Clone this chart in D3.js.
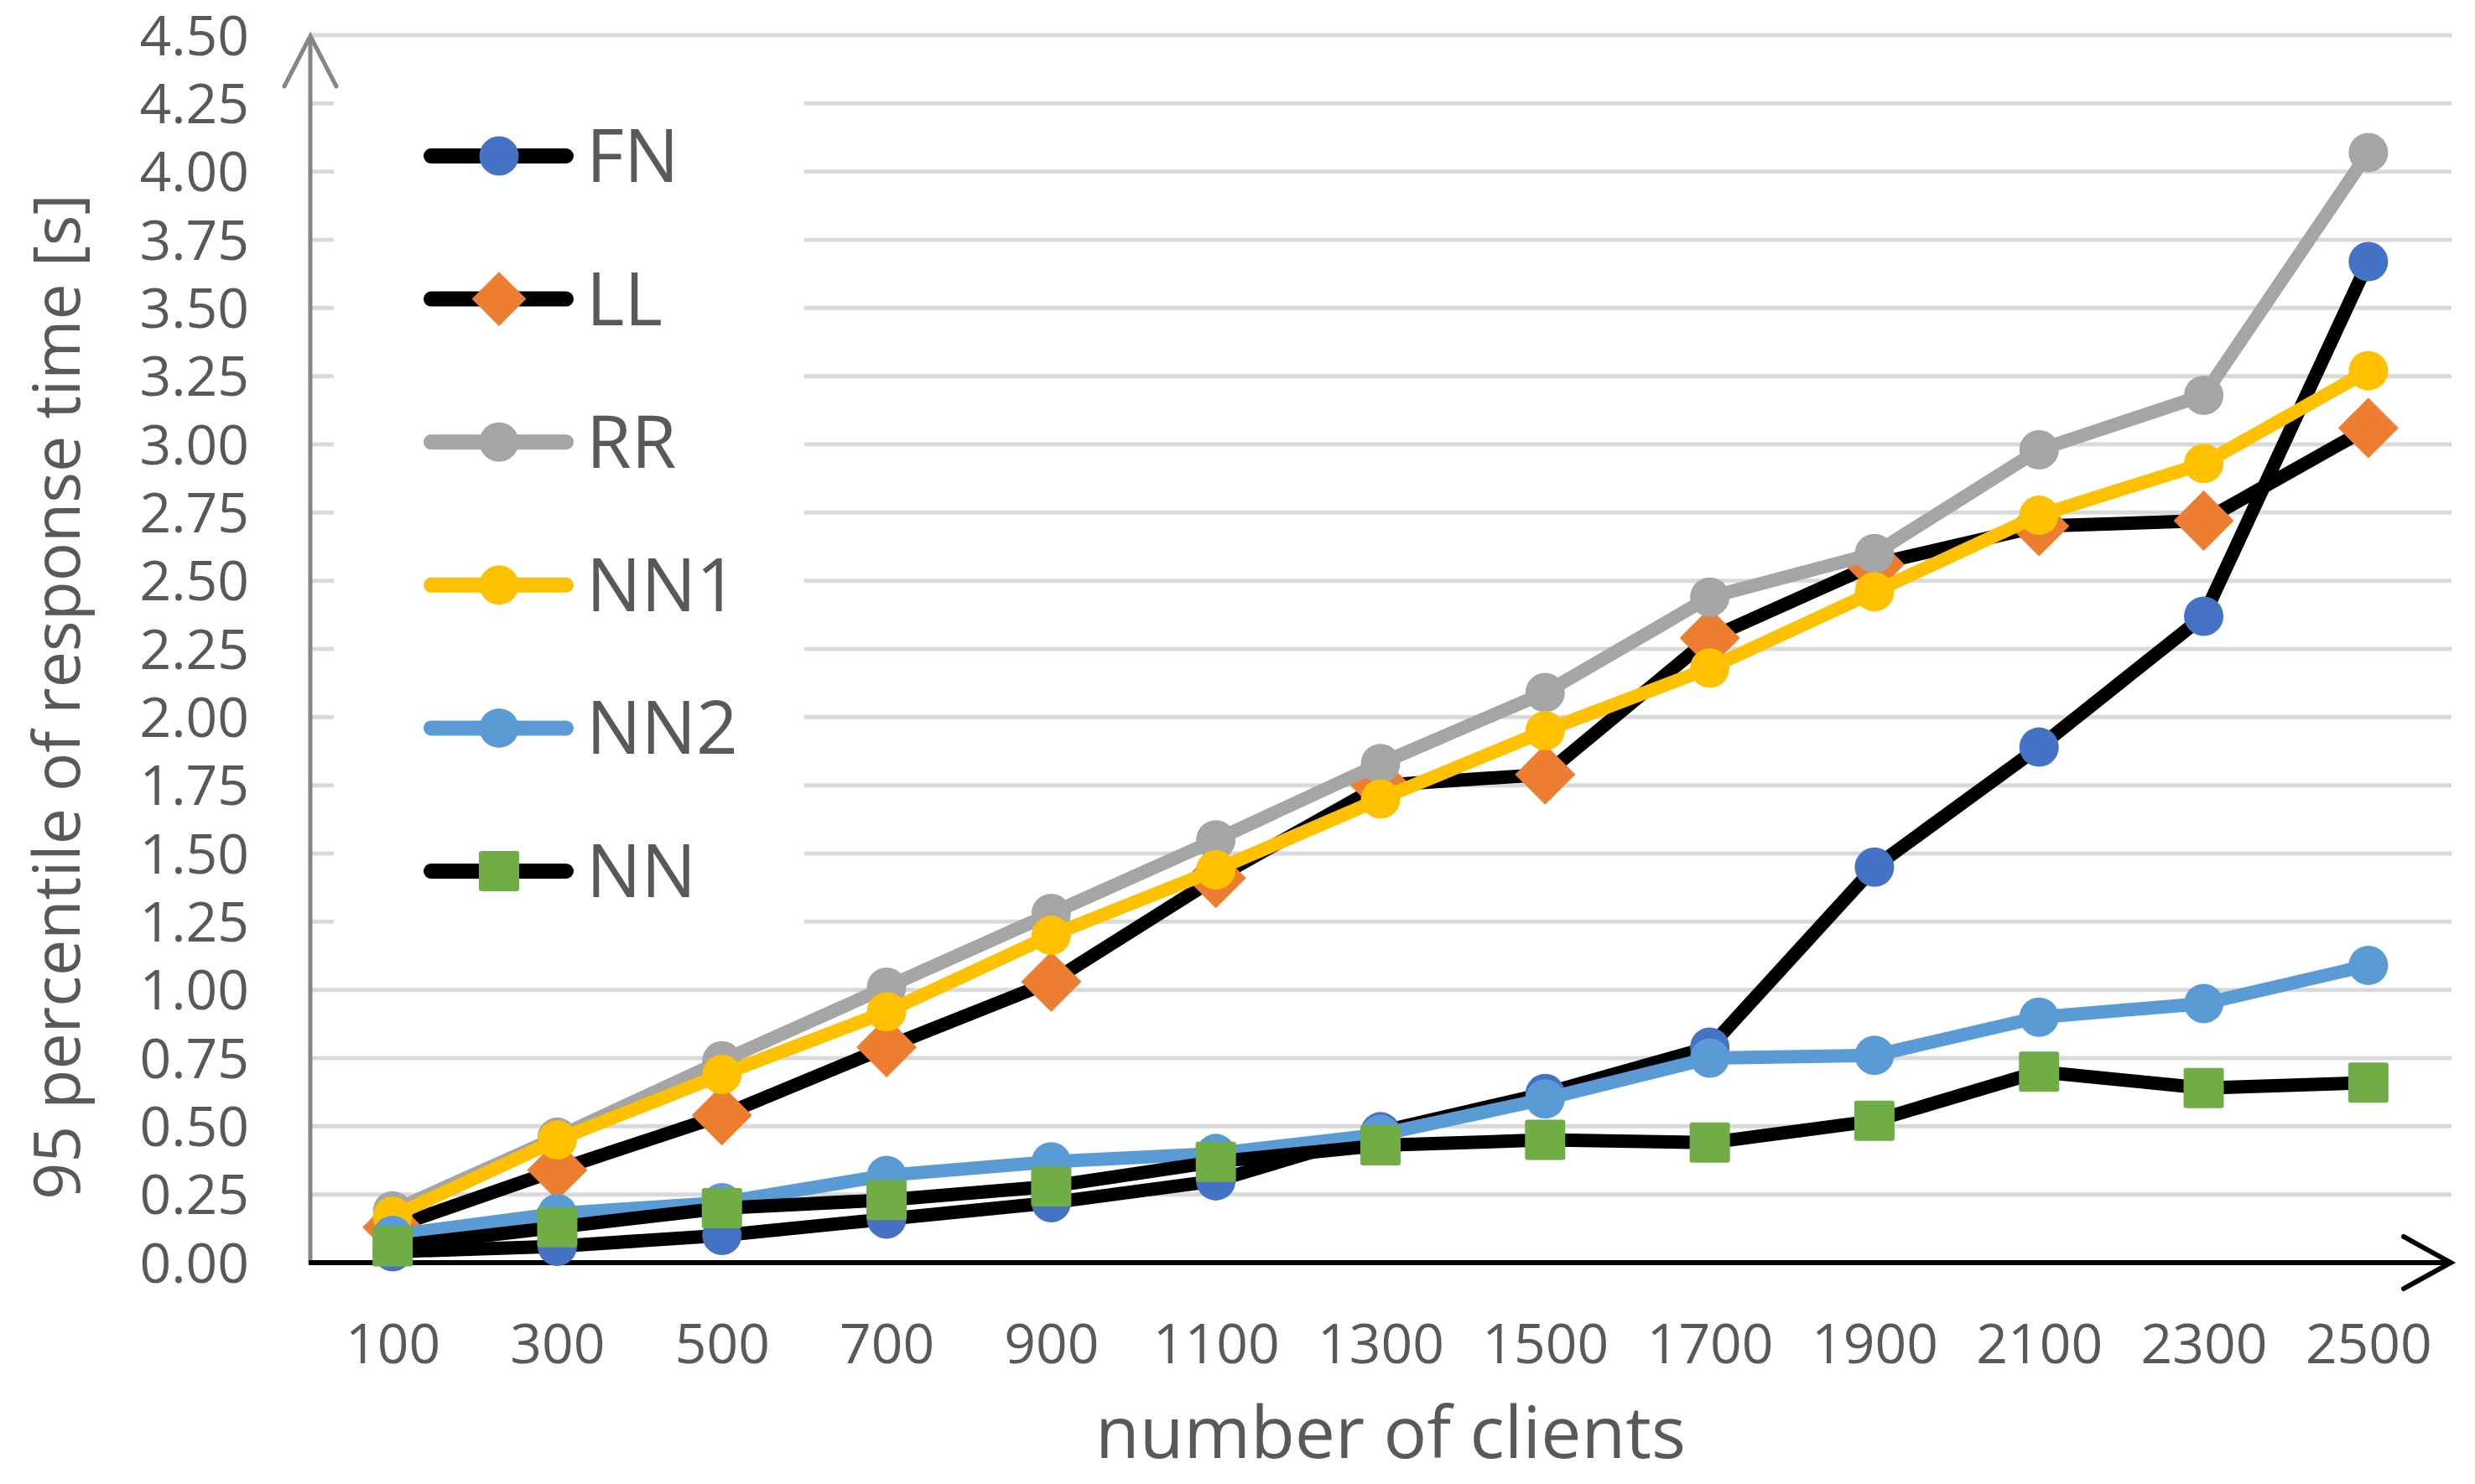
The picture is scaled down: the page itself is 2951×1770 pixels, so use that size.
<!DOCTYPE html>
<html>
<head>
<meta charset="utf-8">
<script src="https://cdn.jsdelivr.net/npm/d3@7"></script>
<style>
  html, body { margin: 0; padding: 0; background: #ffffff; }
  svg { display: block; }
  text { font-family: "Open Sans", "Noto Sans", sans-serif; fill: #595959; }
</style>
</head>
<body>
<svg id="chart" width="2951" height="1770"></svg>
<script>
// ---------------- data ----------------
const categories = [100, 300, 500, 700, 900, 1100, 1300, 1500, 1700, 1900, 2100, 2300, 2500];
const seriesNames = ["FN", "LL", "RR", "NN1", "NN2", "NN"];
const FN  = [0.04, 0.06, 0.10, 0.16, 0.22, 0.30, 0.48, 0.62, 0.79, 1.45, 1.89, 2.37, 3.67];
const LL  = [0.13, 0.34, 0.54, 0.79, 1.03, 1.41, 1.75, 1.79, 2.29, 2.56, 2.70, 2.72, 3.06];
const RR  = [0.19, 0.46, 0.74, 1.01, 1.28, 1.55, 1.83, 2.09, 2.44, 2.60, 2.98, 3.18, 4.07];
const NN1 = [0.17, 0.45, 0.69, 0.92, 1.20, 1.44, 1.70, 1.95, 2.18, 2.46, 2.74, 2.93, 3.27];
const NN2 = [0.10, 0.18, 0.22, 0.32, 0.37, 0.40, 0.47, 0.60, 0.75, 0.76, 0.90, 0.95, 1.09];
const NN  = [0.06, 0.13, 0.20, 0.23, 0.28, 0.37, 0.43, 0.45, 0.44, 0.52, 0.70, 0.64, 0.66];
const yTickValues = [0, 0.25, 0.5, 0.75, 1, 1.25, 1.5, 1.75, 2, 2.25, 2.5, 2.75, 3, 3.25, 3.5, 3.75, 4, 4.25, 4.5];
const xTitle = "number of clients";
const yTitle = "95 percentile of response time [s]";

// ---------------- styles ----------------
const styles = {
  FN:  { line: "#000000", fill: "#4472C4", shape: "circle" },
  LL:  { line: "#000000", fill: "#ED7D31", shape: "diamond" },
  RR:  { line: "#A5A5A5", fill: "#A5A5A5", shape: "circle" },
  NN1: { line: "#FFC000", fill: "#FFC000", shape: "circle" },
  NN2: { line: "#5B9BD5", fill: "#5B9BD5", shape: "circle" },
  NN:  { line: "#000000", fill: "#70AD47", shape: "square" }
};
const values = { FN, LL, RR, NN1, NN2, NN };

// ---------------- layout ----------------
const plotLeft = 370, plotRight = 2922, plotTop = 42, plotBottom = 1506;
const svg = d3.select("#chart");

const x = d3.scalePoint().domain(categories).range([plotLeft, plotRight]).padding(0.5);
const y = d3.scaleLinear().domain([0, 4.5]).range([plotBottom, plotTop]);

// gridlines
svg.append("g")
  .selectAll("line")
  .data(yTickValues.filter(v => v > 0))
  .join("line")
  .attr("x1", plotLeft).attr("x2", plotRight + 1)
  .attr("y1", d => y(d)).attr("y2", d => y(d))
  .attr("stroke", "#D9D9D9").attr("stroke-width", 5);

// legend background (covers gridlines)
svg.append("rect")
  .attr("x", 398).attr("y", 100).attr("width", 561).attr("height", 1025)
  .attr("fill", "#ffffff");

// y axis labels
const yAxis = d3.axisLeft(y).tickValues(yTickValues).tickFormat(d3.format(".2f")).tickSize(0).tickPadding(0);
const gy = svg.append("g").attr("transform", `translate(297,0)`).call(yAxis);
gy.select(".domain").remove();
gy.selectAll("text").attr("font-size", 66).attr("fill", "#595959")
  .attr("font-family", '"Open Sans", sans-serif').attr("dy", "0.35em").attr("x", 0);

// x axis labels
const xAxis = d3.axisBottom(x).tickSize(0).tickPadding(0);
const gx = svg.append("g").attr("transform", `translate(0,1626)`).call(xAxis);
gx.select(".domain").remove();
gx.selectAll("text").attr("font-size", 66).attr("fill", "#595959")
  .attr("font-family", '"Open Sans", sans-serif').attr("dy", 0).attr("y", 0);

// axis lines
svg.append("line").attr("x1", plotLeft).attr("x2", plotLeft).attr("y1", plotBottom).attr("y2", plotTop + 2)
  .attr("stroke", "#868686").attr("stroke-width", 5);
svg.append("path").attr("d", `M${plotLeft - 31},${plotTop + 61} L${plotLeft},${plotTop + 1} L${plotLeft + 31},${plotTop + 61}`)
  .attr("fill", "none").attr("stroke", "#868686").attr("stroke-width", 5).attr("stroke-linecap", "round");

svg.append("line").attr("x1", plotLeft - 2).attr("x2", plotRight).attr("y1", plotBottom).attr("y2", plotBottom)
  .attr("stroke", "#000000").attr("stroke-width", 6);
svg.append("path").attr("d", `M${plotRight - 56},${plotBottom - 31} L${plotRight},${plotBottom} L${plotRight - 56},${plotBottom + 31}`)
  .attr("fill", "none").attr("stroke", "#000000").attr("stroke-width", 6)
  .attr("stroke-linecap", "round").attr("stroke-linejoin", "miter");

// marker drawing helper
function drawMarker(g, shape, cx, cy, color, scale) {
  const s = scale || 1;
  if (shape === "circle") {
    g.append("circle").attr("cx", cx).attr("cy", cy).attr("r", 23.5 * s).attr("fill", color);
  } else if (shape === "square") {
    const h = 24 * s;
    g.append("rect").attr("x", cx - h).attr("y", cy - h).attr("width", 2 * h).attr("height", 2 * h)
      .attr("rx", 3).attr("fill", color);
  } else if (shape === "diamond") {
    const h = 36 * s;
    g.append("path").attr("d", `M${cx},${cy - h} L${cx + h},${cy} L${cx},${cy + h} L${cx - h},${cy} Z`)
      .attr("fill", color);
  }
}

// series
const line = d3.line().x((d, i) => x(categories[i])).y(d => y(d));
seriesNames.forEach(name => {
  const st = styles[name];
  const g = svg.append("g").attr("class", "series-" + name);
  g.append("path").datum(values[name]).attr("d", line)
    .attr("fill", "none").attr("stroke", st.line).attr("stroke-width", 16)
    .attr("stroke-linejoin", "round").attr("stroke-linecap", "round");
  values[name].forEach((v, i) => drawMarker(g, st.shape, x(categories[i]), y(v), st.fill, 1));
});

// legend
const legendY0 = 186, legendStep = 170.6;
seriesNames.forEach((name, i) => {
  const st = styles[name];
  const cy = legendY0 + i * legendStep;
  const g = svg.append("g");
  g.append("line").attr("x1", 514).attr("x2", 675).attr("y1", cy).attr("y2", cy)
    .attr("stroke", st.line).attr("stroke-width", 18).attr("stroke-linecap", "round");
  drawMarker(g, st.shape, 595, cy, st.fill, st.shape === "diamond" ? 0.9 : 1);
  g.append("text").attr("x", 699).attr("y", cy + 31).attr("font-size", 87).text(name);
});

// titles
svg.append("text").attr("x", 1658).attr("y", 1739).attr("text-anchor", "middle")
  .attr("font-size", 86).text(xTitle);
svg.append("text").attr("transform", `translate(95,831) rotate(-90)`).attr("text-anchor", "middle")
  .attr("font-size", 77).text(yTitle);
</script>
</body>
</html>
